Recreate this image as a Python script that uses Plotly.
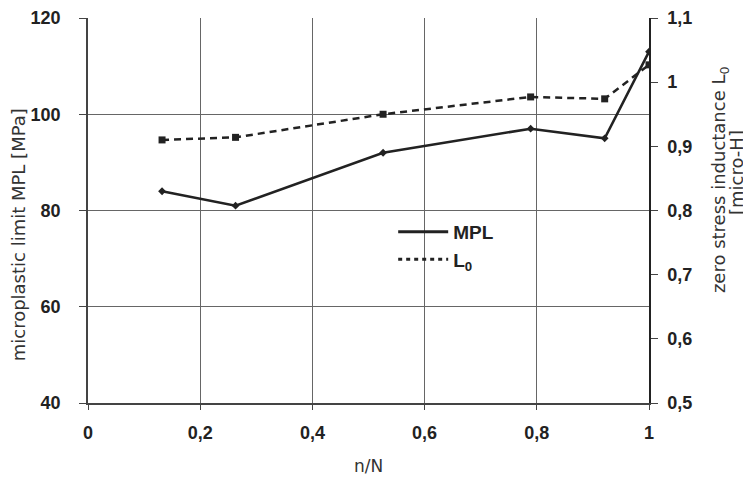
import plotly.graph_objects as go

x_vals = [0.132, 0.263, 0.526, 0.789, 0.921, 1.0]
mpl_vals = [84, 81, 92, 97, 95, 113]
l0_vals = [0.910, 0.914, 0.950, 0.977, 0.974, 1.027]

x_ticks = [0, 0.2, 0.4, 0.6, 0.8, 1]
x_tick_labels = ["0", "0,2", "0,4", "0,6", "0,8", "1"]
y1_ticks = [40, 60, 80, 100, 120]
y2_ticks = [0.5, 0.6, 0.7, 0.8, 0.9, 1.0, 1.1]
y2_tick_labels = ["0,5", "0,6", "0,7", "0,8", "0,9", "1", "1,1"]

left_title = "microplastic limit MPL [MPa]"
right_title_1 = "zero stress inductance L<sub>0</sub>"
right_title_2 = "[micro-H]"

line_color = "#222222"
font_fam = "Liberation Sans, Arial, sans-serif"
title_fam = "DejaVu Sans, sans-serif"

fig = go.Figure()
fig.add_trace(go.Scatter(
    x=x_vals, y=mpl_vals, name="MPL", mode="lines+markers",
    line=dict(color=line_color, width=2.5),
    marker=dict(symbol="diamond", size=6, color=line_color),
    yaxis="y", showlegend=False,
))
fig.add_trace(go.Scatter(
    x=x_vals, y=l0_vals, name="L<sub>0</sub>", mode="lines+markers",
    line=dict(color=line_color, width=2.5, dash="7px,5px"),
    marker=dict(symbol="square", size=7, color=line_color),
    yaxis="y2", showlegend=False,
))
# legend entries (line samples only, as in the reference)
fig.add_trace(go.Scatter(
    x=[None], y=[None], name="MPL", mode="lines",
    line=dict(color=line_color, width=3), yaxis="y",
))
fig.add_trace(go.Scatter(
    x=[None], y=[None], name="L<sub>0</sub>", mode="lines",
    line=dict(color=line_color, width=3, dash="4px,4px"), yaxis="y",
))

tick_font = dict(family=font_fam, size=18, color="#222222", weight="bold")
title_font = dict(family=title_fam, size=17, color="#333333")

fig.update_layout(
    width=751, height=487,
    margin=dict(l=80, r=110, t=10, b=92),
    paper_bgcolor="white", plot_bgcolor="white",
    showlegend=True,
    legend=dict(
        x=0.544, y=0.494, xanchor="left", yanchor="top",
        bgcolor="rgba(0,0,0,0)",
        font=dict(family=font_fam, size=19, color="#222222", weight="bold"),
        tracegroupgap=0, itemwidth=50,
    ),
    xaxis=dict(
        range=[0, 1], tickvals=x_ticks, ticktext=x_tick_labels,
        showgrid=True, gridcolor="#666666", gridwidth=1,
        showline=True, linecolor="#444444", linewidth=1.5,
        ticks="outside", ticklen=5, tickcolor="#444444",
        tickfont=tick_font, zeroline=False, ticklabelstandoff=8,
        automargin=False,
        title=dict(text="n/N", font=title_font, standoff=18),
    ),
    yaxis=dict(
        range=[40, 120], tickvals=y1_ticks,
        showgrid=True, gridcolor="#666666", gridwidth=1,
        showline=True, linecolor="#444444", linewidth=1.5,
        ticks="outside", ticklen=7, tickcolor="#444444",
        tickfont=tick_font, zeroline=False, ticklabelstandoff=15,
        automargin=False,
    ),
    yaxis2=dict(
        range=[0.5, 1.1], tickvals=y2_ticks, ticktext=y2_tick_labels,
        overlaying="y", side="right", anchor="x",
        showgrid=False,
        showline=True, linecolor="#222222", linewidth=1.5,
        ticks="outside", ticklen=7, tickcolor="#444444",
        tickfont=tick_font, zeroline=False, ticklabelstandoff=6,
        automargin=False,
    ),
    annotations=[
        dict(text=left_title, xref="paper", yref="paper", x=-0.1245, y=0.436,
             textangle=-90, showarrow=False, xanchor="center", yanchor="middle",
             font=dict(family=title_fam, size=18, color="#333333")),
        dict(text=right_title_1, xref="paper", yref="paper", x=1.1266, y=0.579,
             textangle=-90, showarrow=False, xanchor="center", yanchor="middle",
             font=dict(family=title_fam, size=18, color="#333333")),
        dict(text=right_title_2, xref="paper", yref="paper", x=1.155, y=0.60,
             textangle=-90, showarrow=False, xanchor="center", yanchor="middle",
             font=dict(family=title_fam, size=18, color="#333333")),
    ],
)

fig.write_html("out.html")
